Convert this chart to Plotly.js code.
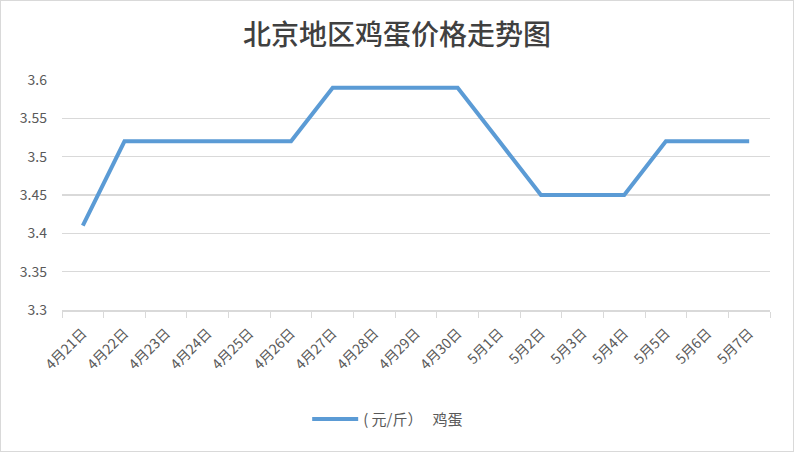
<!DOCTYPE html>
<html><head><meta charset="utf-8">
<script src="https://cdn.plot.ly/plotly-3.0.1.min.js"></script>
<style>html,body{margin:0;padding:0;background:#fff}#c{width:792px;height:450px;border:1px solid #d9d9d9}</style>
</head><body><div id="c"></div>
<script>
const categories = ['4月21日','4月22日','4月23日','4月24日','4月25日','4月26日','4月27日','4月28日','4月29日','4月30日','5月1日','5月2日','5月3日','5月4日','5月5日','5月6日','5月7日'];
const eggPrice = [3.41,3.52,3.52,3.52,3.52,3.52,3.59,3.59,3.59,3.59,3.52,3.45,3.45,3.45,3.52,3.52,3.52];
const seriesName = '( 元/斤）   鸡蛋';
const yTicks = [3.3,3.35,3.4,3.45,3.5,3.55,3.6];
const yTickText = ['3.3','3.35','3.4','3.45','3.5','3.55','3.6'];

Plotly.newPlot('c', [{
  x: categories, y: eggPrice, type: 'scatter', mode: 'lines', name: seriesName,
  line: {color: '#5b9bd5', width: 4}, showlegend: true
}], {
  width: 792, height: 450,
  margin: {l: 61, r: 23, t: 79, b: 141},
  paper_bgcolor: '#fff', plot_bgcolor: '#fff',
  font: {family: '"Noto Sans CJK SC", "Noto Sans", sans-serif', color: '#595959'},
  title: {text: '北京地区鸡蛋价格走势图', x: 0.5, xanchor: 'center', y: 0.925, yanchor: 'middle',
    font: {size: 28, weight: 500, color: '#404040', family: '"Noto Sans CJK SC", sans-serif'}},
  xaxis: {type: 'category', range: [-0.5, categories.length - 0.5], autorange: false,
    tickangle: -45, tickson: 'boundaries', ticks: 'outside', ticklen: 6,
    tickcolor: '#d9d9d9', showline: true, linecolor: '#d9d9d9', linewidth: 1.5, showgrid: false,
    ticklabelstandoff: 8, tickfont: {size: 14, color: '#595959'}, fixedrange: true},
  yaxis: {range: [3.3, 3.6], autorange: false, tickvals: yTicks, ticktext: yTickText,
    showgrid: true, gridcolor: '#d9d9d9', gridwidth: 1.5, zeroline: false, showline: false,
    ticks: '', ticklabelstandoff: 14, tickfont: {size: 14, color: '#595959'}},
  showlegend: true,
  legend: {orientation: 'h', x: 0.46, xanchor: 'center', y: -0.475, yanchor: 'middle',
    itemwidth: 46, font: {size: 15, color: '#595959'}}
}, {displayModeBar: false, staticPlot: true});
</script></body></html>
